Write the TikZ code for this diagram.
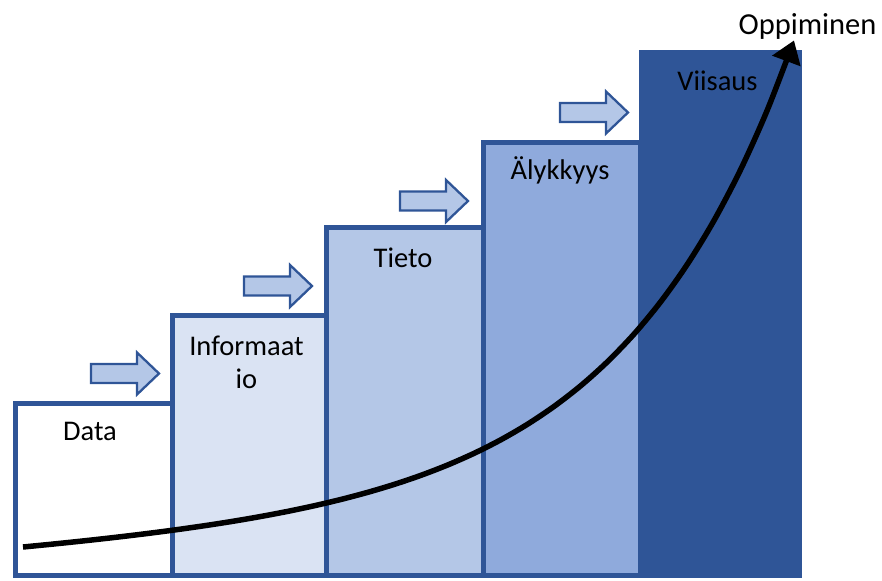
\documentclass[tikz,border=0pt]{standalone}
\usepackage{fontspec}
\setmainfont{Carlito}
\usetikzlibrary{arrows.meta}
\definecolor{bdr}{HTML}{2F5597}
\definecolor{c1}{HTML}{DAE3F3}
\definecolor{c2}{HTML}{B4C7E7}
\definecolor{c3}{HTML}{8FAADC}
\definecolor{c4}{HTML}{2F5597}
\definecolor{arrfill}{HTML}{B4C7E7}
\begin{document}
\begin{tikzpicture}[x=1pt,y=-1pt,
  bar/.style={draw=bdr, line width=5pt, rectangle, inner sep=0pt, anchor=south west},
  lbl/.style={font=\fontsize{28.5}{33}\selectfont, anchor=base, inner sep=0pt},
  blockarrow/.pic={
    \draw[draw=bdr, fill=arrfill, line width=2.3pt, line join=miter]
      (0,-9.5) -- (46,-9.5) -- (46,-21) -- (68,0) -- (46,21) -- (46,9.5) -- (0,9.5) -- cycle;
  },
  curve/.style={line width=5.5pt, black, -{Triangle[length=22pt,width=29pt]}}
]
\useasboundingbox (0,0) rectangle (882,580);
% bars
\node[bar, fill=white, minimum width=157pt, minimum height=172.5pt] (data) at (12.5,578) {};
\node[bar, fill=c1, minimum width=154.5pt, minimum height=260pt] (info) at (169.5,578) {};
\node[bar, fill=c2, minimum width=157pt, minimum height=348pt] (tieto) at (324,578) {};
\node[bar, fill=c3, minimum width=156.5pt, minimum height=432.5pt] (aly) at (481,578) {};
\node[bar, fill=c4, minimum width=158pt, minimum height=522.5pt] (viisaus) at (638.5,578) {};
% labels
\node[lbl] (tdata) at (90,440) {Data};
\node[lbl] (tinfo1) at (246.5,355) {Informaat};
\node[lbl] (tinfo2) at (246.5,388) {io};
\node[lbl] (ttieto) at (403,267) {Tieto};
\node[lbl] (taly) at (560,179) {Älykkyys};
\node[lbl] (tviis) at (717.5,91) {Viisaus};
\node[lbl, font=\fontsize{30.5}{35}\selectfont] (topp) at (807.5,35) {Oppiminen};
% block arrows
\pic at (91,373.5) {blockarrow};
\pic at (244,286) {blockarrow};
\pic at (400,201) {blockarrow};
\pic at (560,112.5) {blockarrow};
% learning curve
\draw[curve] plot[smooth, domain=23:794, samples=30]
  (\x, {547 - 0.0685*(\x-23) - 4.5*(exp(0.006*(\x-23))-1)});
\end{tikzpicture}
\end{document}
